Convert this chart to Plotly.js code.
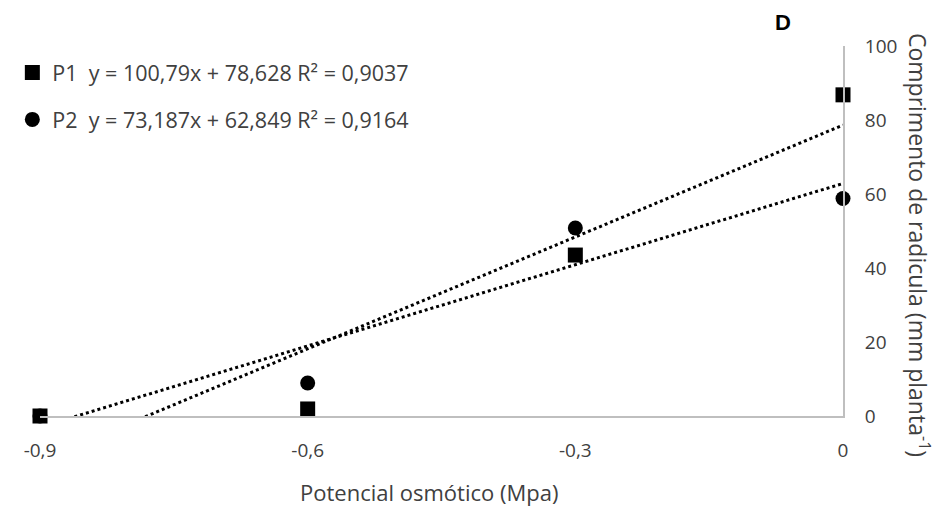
<!DOCTYPE html>
<html><head><meta charset="utf-8">
<script src="https://cdn.plot.ly/plotly-3.0.1.min.js"></script>
<style>body{margin:0;background:#fff}#c{width:940px;height:507px}</style>
</head><body><div id="c"></div>
<script>
const xVals = [-0.9, -0.6, -0.3, 0];
const p1 = [0, 1.9, 43.5, 86.8];
const p2 = [0, 8.9, 50.8, 58.8];
const p1Fit = {slope: 100.79, intercept: 78.628, label: "y = 100,79x + 78,628 R² = 0,9037"};
const p2Fit = {slope: 73.187, intercept: 62.849, label: "y = 73,187x + 62,849 R² = 0,9164"};
const xTicks = [-0.9, -0.6, -0.3, 0];
const xTickText = ["-0,9", "-0,6", "-0,3", "0"];
const yTicks = [0, 20, 40, 60, 80, 100];

const font = "Open Sans, sans-serif";
const grey = "#404040";
const fitX = [xVals[0], xVals[xVals.length-1]];
function line(f){ return fitX.map(x => f.slope*x + f.intercept); }

const traces = [
  {x: fitX, y: line(p1Fit), mode: "lines", line: {color: "#000", width: 3, dash: "dot"}, showlegend: false, hoverinfo: "skip"},
  {x: fitX, y: line(p2Fit), mode: "lines", line: {color: "#000", width: 3, dash: "dot"}, showlegend: false, hoverinfo: "skip"},
  {x: xVals, y: p2, mode: "markers", name: "P2  " + p2Fit.label, legendgroup: "b", legendrank: 2, marker: {symbol: "circle", size: 15, color: "#000"}, cliponaxis: false},
  {x: xVals, y: p1, mode: "markers", name: "P1  " + p1Fit.label, legendgroup: "a", legendrank: 1, marker: {symbol: "square", size: 15, color: "#000"}, cliponaxis: false}
];

const W = 940, H = 507, L = 30, R = 97, T = 46, B = 91;
const pw = W - L - R, ph = H - T - B;
const px = v => (v - L) / pw;
const py = v => (H - B - v) / ph;

const layout = {
  width: W, height: H,
  margin: {l: L, r: R, t: T, b: B},
  paper_bgcolor: "#fff", plot_bgcolor: "#fff",
  font: {family: font, color: grey, size: 17},
  showlegend: true,
  legend: {x: px(2), y: py(52), xanchor: "left", yanchor: "top", traceorder: "grouped", tracegroupgap: 16, font: {family: font, size: 21.5, color: grey}, bgcolor: "rgba(0,0,0,0)"},
  xaxis: {range: [-0.9, 0], automargin: false, tickvals: xTicks, ticktext: xTickText, showgrid: false, zeroline: false, showline: true, linecolor: "#bfbfbf", linewidth: 2, ticks: "", ticklabelstandoff: 16, tickfont: {size: 19, color: grey}},
  yaxis: {range: [0, 100], automargin: false, side: "right", tickvals: yTicks, showgrid: false, zeroline: false, showline: true, linecolor: "#bfbfbf", linewidth: 2, ticks: "", ticklabelstandoff: 16, tickfont: {size: 19, color: grey}},
  annotations: [
    {text: "<b>D</b>", x: px(782), y: py(22), xanchor: "center", yanchor: "middle", xref: "paper", yref: "paper", showarrow: false, font: {size: 22, color: "#000", family: "Liberation Sans, Arial"}},
    {text: "Potencial osmótico (Mpa)", xref: "paper", yref: "paper", x: px(424), y: py(492), xanchor: "center", yanchor: "middle", showarrow: false, font: {size: 22, color: grey}},
    {text: "Comprimento de radicula (mm planta<sup>-1</sup>)", xref: "paper", yref: "paper", x: px(920), y: py(245), xanchor: "center", yanchor: "middle", textangle: 90, showarrow: false, font: {size: 23, color: grey}}
  ]
};
Plotly.newPlot("c", traces, layout, {displayModeBar: false});
</script></body></html>
